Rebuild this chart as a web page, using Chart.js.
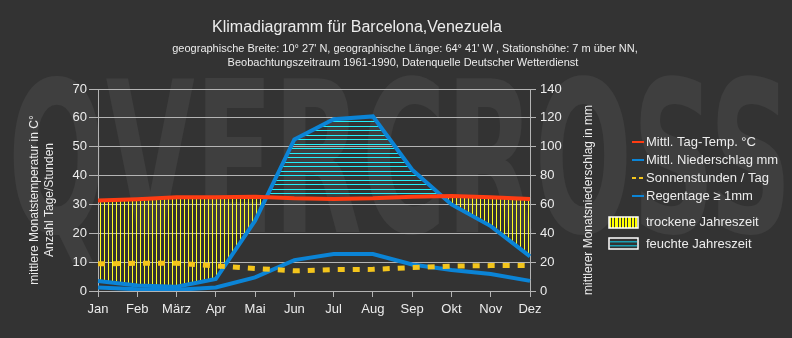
<!DOCTYPE html>
<html>
<head>
<meta charset="utf-8">
<script src="https://cdn.jsdelivr.net/npm/chart.js@4.4.1/dist/chart.umd.min.js"></script>
<style>
  html, body { margin: 0; padding: 0; background: #333333; }
  canvas { display: block; }
</style>
</head>
<body>
<canvas id="klima" width="792" height="338"></canvas>
<script>
// Klimadaten Barcelona (Venezuela), 1961-1990
const months = ['Jan', 'Feb', 'März', 'Apr', 'Mai', 'Jun', 'Jul', 'Aug', 'Sep', 'Okt', 'Nov', 'Dez'];
const temperature = [31.4, 31.8, 32.5, 32.5, 32.7, 32.1, 31.9, 32.1, 32.7, 32.9, 32.5, 31.9];   // °C
const precipitation = [7, 3.8, 3, 8.3, 48.7, 105, 119, 121, 84, 60, 45, 24];                  // mm
const sunHours = [9.4, 9.6, 9.6, 8.7, 7.8, 7.0, 7.4, 7.5, 8.1, 8.6, 8.8, 8.8];                // h / Tag
const rainDays = [1.2, 0.6, 0.4, 1.2, 4.7, 10.7, 12.8, 12.8, 9.2, 7.3, 5.9, 3.5];             // Tage >= 1mm

const leftAxis = { min: 0, max: 70, step: 10 };
const rightAxis = { min: 0, max: 140, step: 20 };

const title = 'Klimadiagramm für Barcelona,Venezuela';
const subtitle = [
    "geographische Breite: 10° 27' N, geographische Länge: 64° 41' W , Stationshöhe: 7 m über NN,",
    'Beobachtungszeitraum 1961-1990, Datenquelle Deutscher Wetterdienst'
];
const leftTitle = ['mittlere Monatstemperatur in C°', 'Anzahl Tage/Stunden'];
const rightTitle = 'mittlerer Monatsniederschlag in mm';
const legendItems = ['Mittl. Tag-Temp. °C', 'Mittl. Niederschlag mm', 'Sonnenstunden / Tag', 'Regentage ≥ 1mm'];
const seasonItems = ['trockene Jahreszeit', 'feuchte Jahreszeit'];

const FONT = '"Liberation Sans", Arial, sans-serif';
const textColor = '#ececec';
const gridColor = '#b4b4b4';
const red = '#ff3c12';
const blue = '#0b84d6';
const yellow = '#f4c51c';

const canvas = document.getElementById('klima');
const ctx = canvas.getContext('2d');

function hatch(w, h, color, rows) {
    const c = document.createElement('canvas');
    c.width = w; c.height = h;
    const g = c.getContext('2d');
    g.fillStyle = color;
    rows.forEach(r => g.fillRect(r[0], r[1], r[2], r[3]));
    return ctx.createPattern(c, 'repeat');
}
const dryHatch = hatch(4, 1, '#ffff22', [[0, 0, 1, 1]]);
const wetHatch = hatch(1, 9, '#22eef8', [[0, 0, 1, 1], [0, 4, 1, 1]]);

const decor = {
    id: 'decor',
    beforeDraw(chart) {
        const c = chart.ctx;
        c.save();
        c.fillStyle = '#333333';
        c.fillRect(0, 0, chart.width, chart.height);
        // watermark
        c.font = 'bold 210px "DejaVu Sans Condensed", sans-serif';
        c.fillStyle = 'rgba(255,255,255,0.06)';
        const wm = 'QVERCROSS';
        const w = c.measureText(wm).width;
        c.translate(8, 232);
        c.scale(784 / w, 1);
        c.fillText(wm, 0, 0);
        c.restore();
    },
    afterDraw(chart) {
        const c = chart.ctx;
        c.save();
        c.fillStyle = textColor;
        c.textAlign = 'center';
        c.textBaseline = 'alphabetic';
        c.font = '16px ' + FONT;
        c.fillText(title, 357, 32);
        c.font = '11px ' + FONT;
        c.fillText(subtitle[0], 405, 52);
        c.fillText(subtitle[1], 403, 66);

        // axis titles
        c.font = '12px ' + FONT;
        c.textBaseline = 'middle';
        [[35, leftTitle[0]], [50, leftTitle[1]], [589, rightTitle]].forEach(([x, t]) => {
            c.save();
            c.translate(x, 200);
            c.rotate(-Math.PI / 2);
            c.fillText(t, 0, 0);
            c.restore();
        });

        // legend
        c.font = '13px ' + FONT;
        c.textAlign = 'left';
        const ys = [142, 160, 178, 196];
        const cols = [red, blue, yellow, blue];
        ys.forEach((y, i) => {
            c.strokeStyle = cols[i];
            c.lineWidth = 2;
            c.setLineDash(i === 2 ? [4, 3] : []);
            c.beginPath();
            c.moveTo(632, y);
            c.lineTo(644, y);
            c.stroke();
            c.fillStyle = textColor;
            c.fillText(legendItems[i], 646, y);
        });
        c.setLineDash([]);

        // dry season box
        c.fillStyle = '#ffff00';
        c.fillRect(609, 217, 29, 11);
        c.fillStyle = '#333333';
        for (let x = 611; x < 638; x += 3.3) c.fillRect(Math.round(x), 217, 1, 11);
        c.strokeStyle = '#ffffff';
        c.lineWidth = 1.5;
        c.strokeRect(609, 217, 29, 11);
        // wet season box
        c.fillStyle = '#333333';
        c.fillRect(609, 238, 29, 11);
        c.fillStyle = '#1aa0b4';
        c.fillRect(610, 241, 27, 1.5);
        c.fillRect(610, 245, 27, 1.5);
        c.strokeRect(609, 238, 29, 11);

        c.fillStyle = textColor;
        c.fillText(seasonItems[0], 646, 222);
        c.fillText(seasonItems[1], 646, 244);
        c.restore();
    }
};

const tickFont = { family: FONT, size: 13 };

new Chart(canvas, {
    type: 'line',
    data: {
        labels: months,
        datasets: [
            {
                label: legendItems[0],
                data: temperature,
                yAxisID: 'y',
                borderColor: red,
                borderWidth: 4,
                pointRadius: 0,
                fill: false,
                order: 2
            },
            {
                label: legendItems[1],
                data: precipitation,
                yAxisID: 'y2',
                borderColor: blue,
                borderWidth: 4,
                pointRadius: 0,
                fill: { target: 0, above: wetHatch, below: dryHatch },
                order: 3
            },
            {
                label: legendItems[2],
                data: sunHours,
                yAxisID: 'y',
                borderColor: yellow,
                borderWidth: 5,
                borderDash: [7, 8],
                pointRadius: 0,
                fill: false,
                order: 1
            },
            {
                label: legendItems[3],
                data: rainDays,
                yAxisID: 'y',
                borderColor: blue,
                borderWidth: 4,
                pointRadius: 0,
                fill: false,
                order: 4
            }
        ]
    },
    options: {
        responsive: false,
        animation: false,
        layout: { padding: { left: 58, right: 222, top: 89, bottom: 17 } },
        plugins: {
            legend: { display: false },
            title: { display: false },
            tooltip: { enabled: false },
            filler: { drawTime: 'beforeDatasetsDraw' }
        },
        scales: {
            x: {
                offset: false,
                grid: { drawOnChartArea: false, drawTicks: true, tickLength: 6, color: gridColor },
                border: { color: gridColor },
                ticks: { color: textColor, font: tickFont, padding: 5, maxRotation: 0, autoSkip: false },
                afterFit(s) { s.height = 30; }
            },
            y: {
                position: 'left',
                min: leftAxis.min,
                max: leftAxis.max,
                grid: { color: gridColor, tickLength: 9 },
                border: { color: gridColor },
                ticks: { stepSize: leftAxis.step, color: textColor, font: tickFont, padding: 2 },
                afterFit(s) { s.width = 40; }
            },
            y2: {
                position: 'right',
                min: rightAxis.min,
                max: rightAxis.max,
                grid: { drawOnChartArea: false, tickLength: 6, color: gridColor },
                border: { color: gridColor },
                ticks: { stepSize: rightAxis.step, color: textColor, font: tickFont, padding: 4 },
                afterFit(s) { s.width = 40; }
            }
        }
    },
    plugins: [decor]
});
</script>
</body>
</html>
